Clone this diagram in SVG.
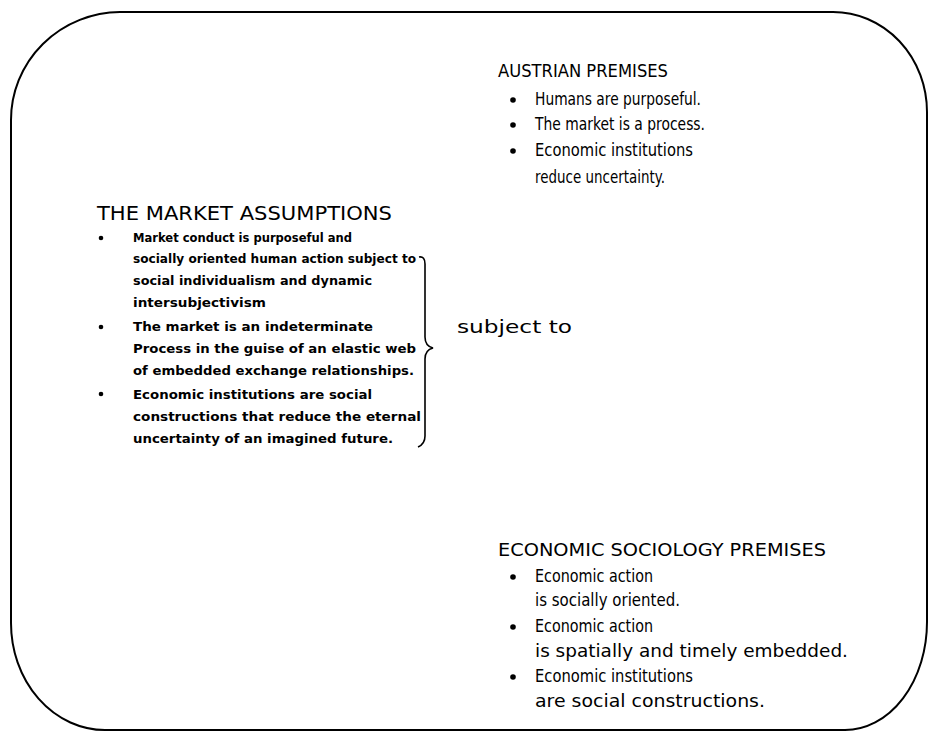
<svg xmlns="http://www.w3.org/2000/svg" width="936" height="731" viewBox="0 0 936 731">
<style>
text{font-family:"Comic Sans MS","DejaVu Sans","Noto Sans",sans-serif;fill:#000}
.h{font-size:18px}
.hb{font-size:20px}
.t{font-size:18px}
.s{font-size:13px;font-weight:bold}
.line{fill:none;stroke:#000;stroke-width:2}
</style>
<rect width="936" height="731" fill="#fff"/>
<g id="frame">
<path class="line" d="M120,12 H833 A94,100 0 0 1 927,112 V622 A82,108 0 0 1 845,730 H105 A94,107 0 0 1 11,623 V120 A110,108 0 0 1 120,12 Z"/>
</g>
<g id="austrian">
<text class="h" x="498" y="77" textLength="170" lengthAdjust="spacingAndGlyphs">AUSTRIAN PREMISES</text>
<circle cx="513" cy="100" r="2.8"/>
<circle cx="513" cy="125" r="2.8"/>
<circle cx="513" cy="151" r="2.8"/>
<text class="t" x="535" y="105" textLength="166" lengthAdjust="spacingAndGlyphs">Humans are purposeful.</text>
<text class="t" x="535" y="130" textLength="170" lengthAdjust="spacingAndGlyphs">The market is a process.</text>
<text class="t" x="535" y="156" textLength="158" lengthAdjust="spacingAndGlyphs">Economic institutions</text>
<text class="t" x="535" y="183" textLength="130" lengthAdjust="spacingAndGlyphs">reduce uncertainty.</text>
</g>
<g id="market">
<text class="hb" x="97" y="220" textLength="295" lengthAdjust="spacingAndGlyphs">THE MARKET ASSUMPTIONS</text>
<circle cx="101" cy="238" r="2.3"/>
<circle cx="101" cy="327" r="2.3"/>
<circle cx="101" cy="394" r="2.3"/>
<text class="s" x="133" y="242" textLength="219" lengthAdjust="spacingAndGlyphs">Market conduct is purposeful and</text>
<text class="s" x="133" y="263" textLength="283" lengthAdjust="spacingAndGlyphs">socially oriented human action subject to</text>
<text class="s" x="133" y="285" textLength="239" lengthAdjust="spacingAndGlyphs">social individualism and dynamic</text>
<text class="s" x="133" y="307" textLength="133" lengthAdjust="spacingAndGlyphs">intersubjectivism</text>
<text class="s" x="133" y="331" textLength="240" lengthAdjust="spacingAndGlyphs">The market is an indeterminate</text>
<text class="s" x="133" y="353" textLength="283" lengthAdjust="spacingAndGlyphs">Process in the guise of an elastic web</text>
<text class="s" x="133" y="375" textLength="281" lengthAdjust="spacingAndGlyphs">of embedded exchange relationships.</text>
<text class="s" x="133" y="399" textLength="239" lengthAdjust="spacingAndGlyphs">Economic institutions are social</text>
<text class="s" x="133" y="421" textLength="288" lengthAdjust="spacingAndGlyphs">constructions that reduce the eternal</text>
<text class="s" x="133" y="443" textLength="260" lengthAdjust="spacingAndGlyphs">uncertainty of an imagined future.</text>
</g>
<g id="connectors">
<path d="M419,257 Q425,256 425,264 V337 Q425,346 433,348 Q425,350 425,359 V436 Q425,444 418,447" fill="none" stroke="#000" stroke-width="1.6"/>
</g>
<g id="subject">
<text class="t" x="457" y="333" textLength="115" lengthAdjust="spacingAndGlyphs">subject to</text>
</g>
<g id="sociology">
<text class="h" x="498" y="556" textLength="328" lengthAdjust="spacingAndGlyphs">ECONOMIC SOCIOLOGY PREMISES</text>
<circle cx="513" cy="577" r="2.8"/>
<circle cx="513" cy="627" r="2.8"/>
<circle cx="513" cy="677" r="2.8"/>
<text class="t" x="535" y="582" textLength="118" lengthAdjust="spacingAndGlyphs">Economic action</text>
<text class="t" x="535" y="606" textLength="145" lengthAdjust="spacingAndGlyphs">is socially oriented.</text>
<text class="t" x="535" y="632" textLength="118" lengthAdjust="spacingAndGlyphs">Economic action</text>
<text class="t" x="535" y="657" textLength="313" lengthAdjust="spacingAndGlyphs">is spatially and timely embedded.</text>
<text class="t" x="535" y="682" textLength="158" lengthAdjust="spacingAndGlyphs">Economic institutions</text>
<text class="t" x="535" y="707" textLength="230" lengthAdjust="spacingAndGlyphs">are social constructions.</text>
</g>
</svg>
